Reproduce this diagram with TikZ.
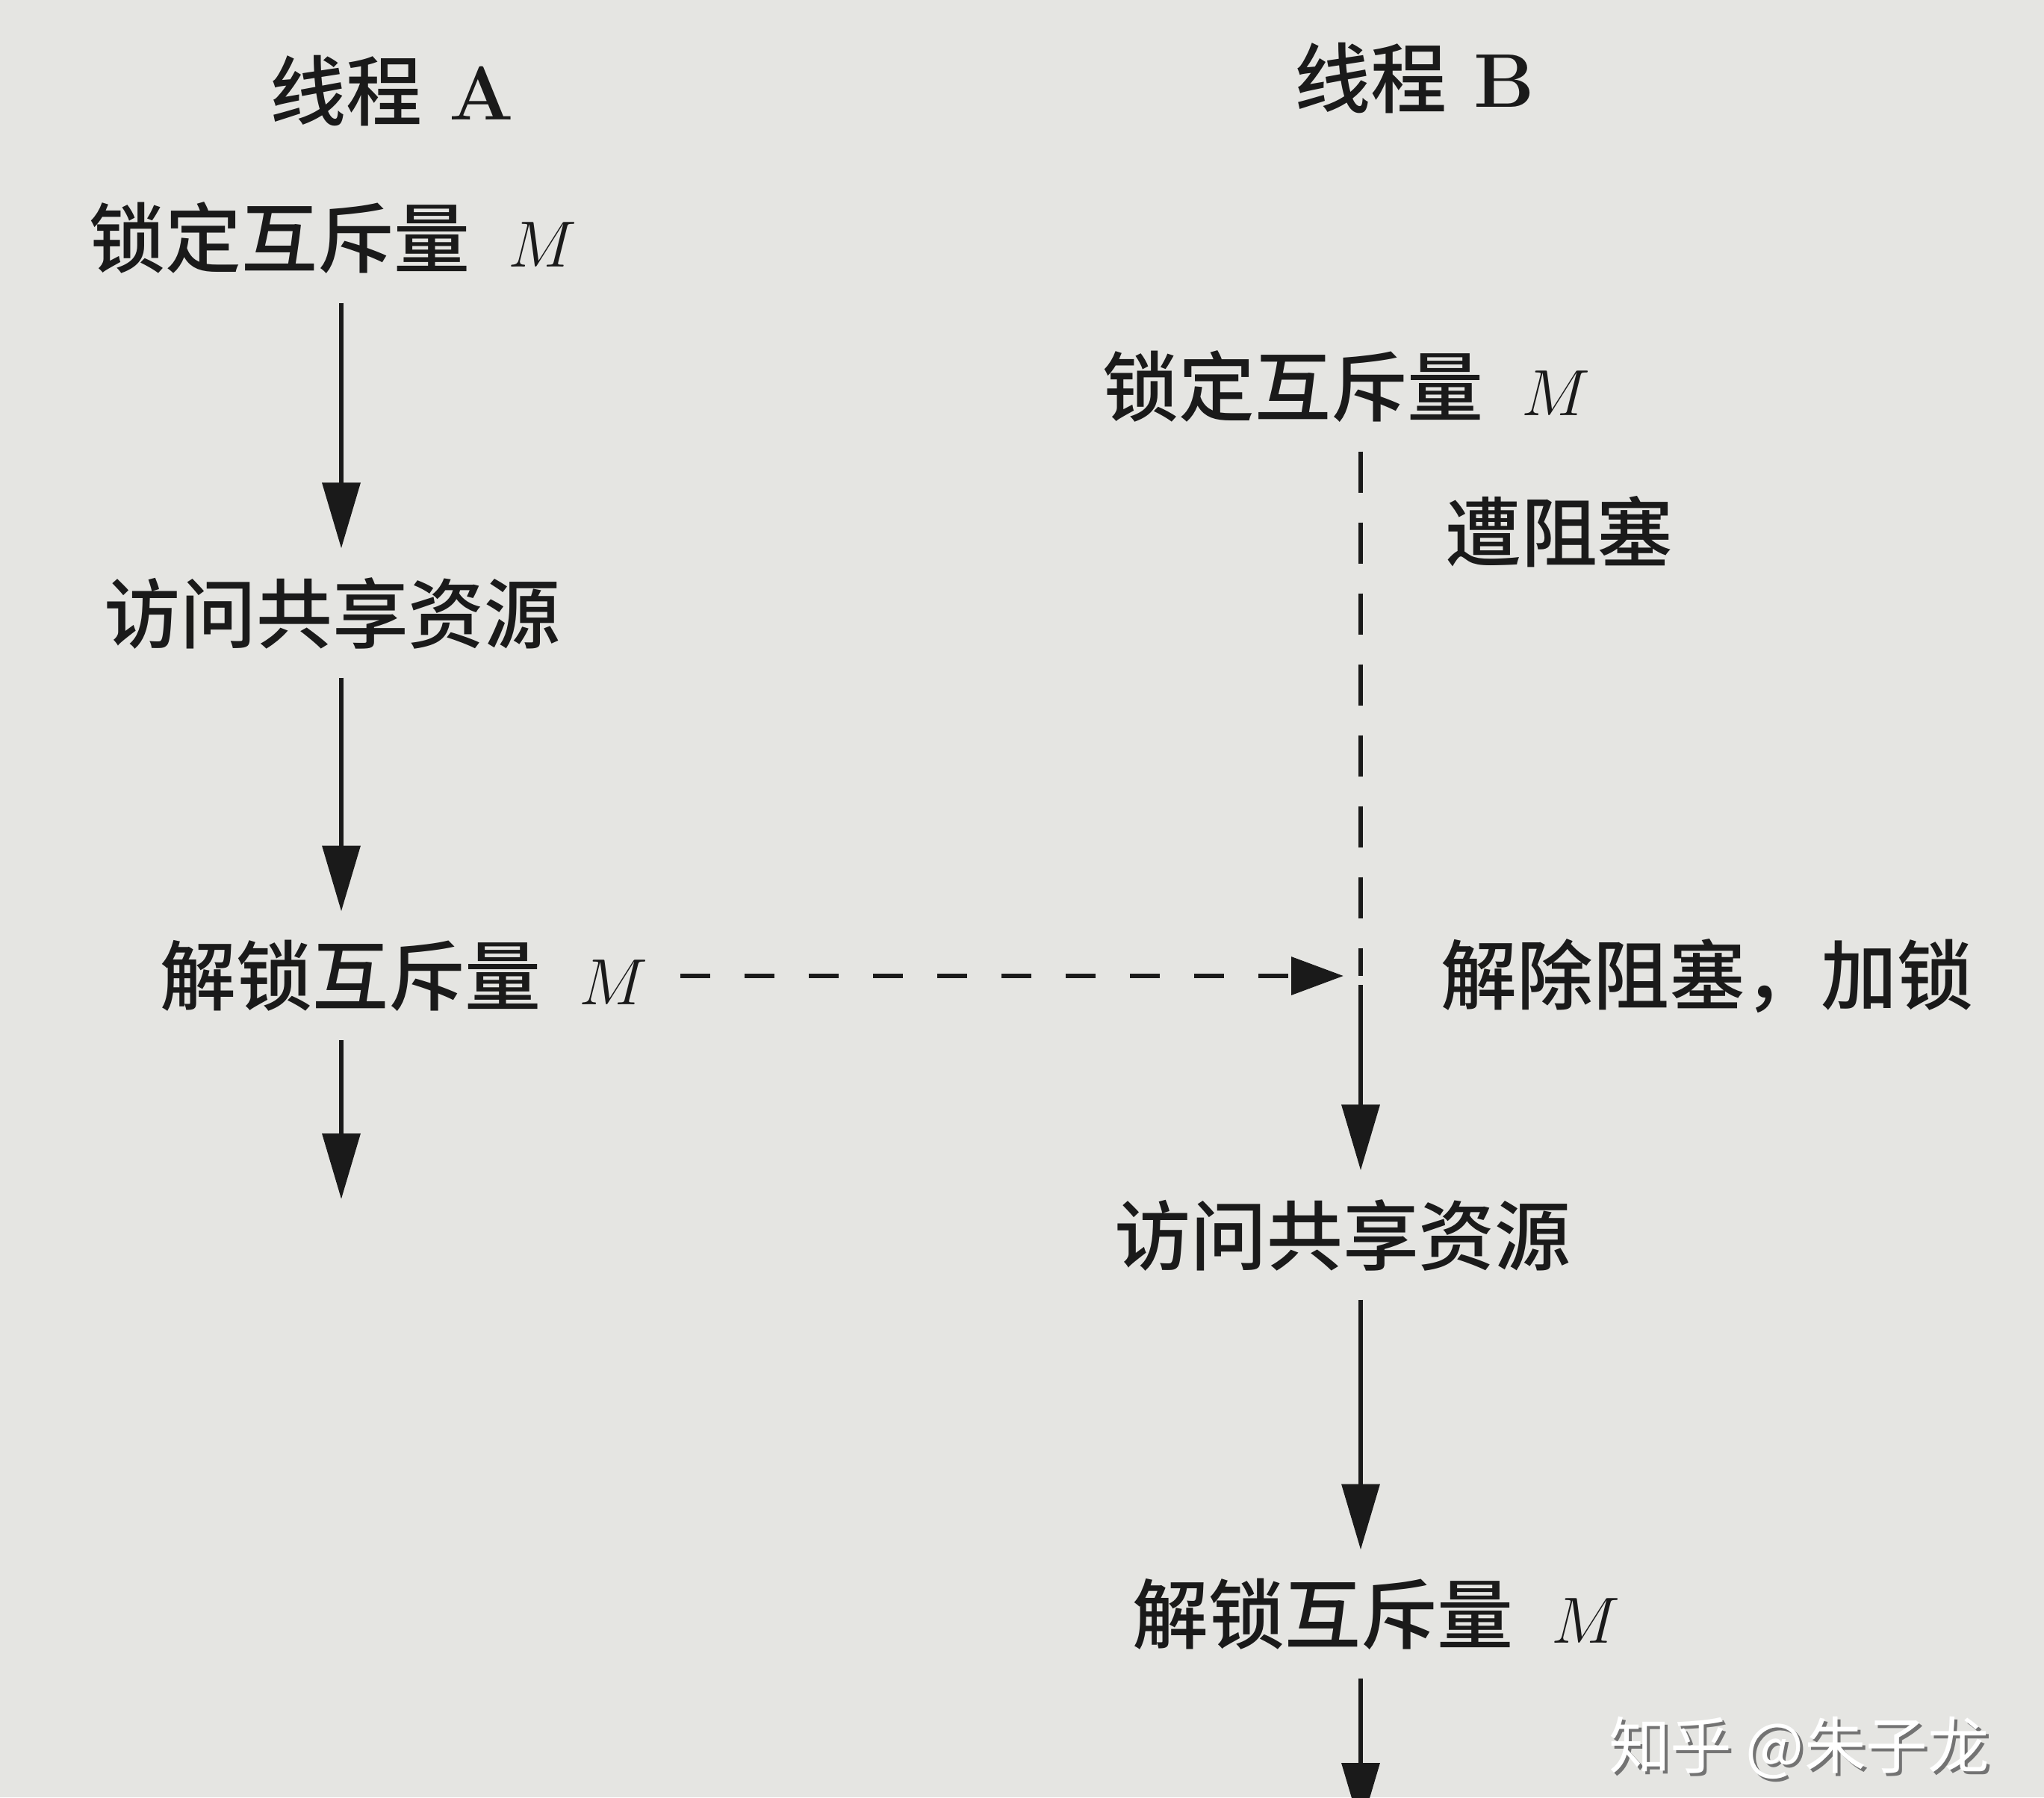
\documentclass[tikz,border=0pt]{standalone}
\usepackage{fontspec}
\usepackage{xcolor}
\usepackage{tikz}
\usetikzlibrary{arrows.meta}
\newfontfamily\cjk{Noto Sans CJK SC}[BoldFont={Noto Sans CJK SC Medium}]
\definecolor{paper}{RGB}{229,229,226}
\definecolor{ink}{RGB}{26,26,26}
\tikzstyle{thread} = [font=\cjk\bfseries\fontsize{29}{34}\selectfont,
text=ink,
inner sep=0pt]
\tikzstyle{action} = [font=\cjk\bfseries\fontsize{29}{34}\selectfont,
text=ink,
inner xsep=0.43cm,
inner ysep=0.38cm]
\tikzstyle{note} = [font=\cjk\bfseries\fontsize{29}{34}\selectfont,
text=ink,
inner sep=0pt]
\tikzstyle{arrow} = [draw=ink, line width=1.9pt, -{Triangle[length=0.88cm,width=0.5cm]}]
\tikzstyle{waitline} = [draw=ink, line width=1.9pt, dash pattern=on 0.55cm off 0.4cm]
\tikzstyle{signal} = [draw=ink, line width=1.9pt, dash pattern=on 0.4cm off 0.46cm,
-{Triangle[length=0.7cm,width=0.5cm]}]
\tikzstyle{watermark} = [font=\cjk\fontsize{23.5}{28}\selectfont, inner sep=0pt]

\begin{document}
\begin{tikzpicture}
\fill[paper] (0,0) rectangle (27.37,-24.07);
\useasboundingbox (0,0) rectangle (27.37,-24.07);

% the two columns
\coordinate (colA) at (4.57,0);
\coordinate (colB) at (18.22,0);

% thread A
\node (titleA) [thread] at (5.25,-1.22) {线程\hspace{0.35em}{\rmfamily\bfseries A}};
\node (lockA) [action] at (4.46,-3.19) {锁定互斥量\hspace{0.5em}$M$};
\node (accA) [action] at (4.45,-8.21) {访问共享资源};
\node (unlockA) [action] at (5.41,-13.07) {解锁互斥量\hspace{0.5em}$M$};
\coordinate (endA) at (4.57,-16.06);

% thread B
\node (titleB) [thread] at (18.94,-1.05) {线程\hspace{0.35em}{\rmfamily\bfseries B}};
\node (lockB) [action] at (18.03,-5.18) {锁定互斥量\hspace{0.5em}$M$};
\node (accB) [action] at (17.98,-16.54) {访问共享资源};
\node (unlockB) [action] at (18.43,-21.62) {解锁互斥量\hspace{0.5em}$M$};
\coordinate (endB) at (18.22,-24.49);
\coordinate (unblk) at (unlockA.east -| colB);

\node (blocked) [note] at (20.88,-7.12) {遭阻塞};
\node (unblock) [note] at (22.86,-13.07) {解除阻塞，加锁};

\draw [arrow] (lockA.south -| colA) -- (accA.north -| colA);
\draw [arrow] (accA.south -| colA) -- (unlockA.north -| colA);
\draw [arrow] (unlockA.south -| colA) -- (endA);

\draw [signal, shorten >=0.23cm] (unlockA.east) -- (unblk);
\draw [waitline] (lockB.south -| colB) -- (unblk);
\draw [arrow, shorten <=0.12cm] (unblk) -- (accB.north -| colB);
\draw [arrow] (accB.south -| colB) -- (unlockB.north -| colB);
\draw [arrow] (unlockB.south -| colB) -- (endB);

% watermark
\node (wmshadow) [watermark, text=black!55] at (24.13,-23.45) {知乎 @朱子龙};
\node (wm) [watermark, text=white] at (24.09,-23.41) {知乎 @朱子龙};

\end{tikzpicture}
\end{document}
